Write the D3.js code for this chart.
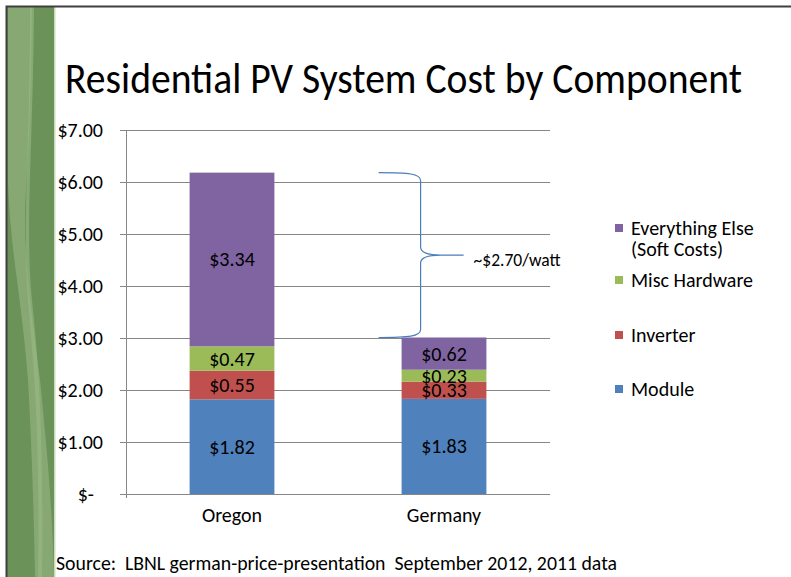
<!DOCTYPE html>
<html><head><meta charset="utf-8">
<script src="https://cdn.jsdelivr.net/npm/d3@7"></script>
<style>
html,body{margin:0;padding:0;background:#fff;}
svg{display:block;font-family:Carlito, Calibri, Lato, "Open Sans", sans-serif;}
text{white-space:pre;}
</style></head>
<body>
<svg id="chart" width="791" height="577"></svg>
<script>
const categories = ["Oregon", "Germany"];
const seriesNames = ["Module", "Inverter", "Misc Hardware", "Everything Else"];
const moduleVals = [1.82, 1.83];
const inverterVals = [0.55, 0.33];
const miscVals = [0.47, 0.23];
const softVals = [3.34, 0.62];
const yTicks = [0, 1, 2, 3, 4, 5, 6, 7];
const colors = ["#4f81bd", "#c0504d", "#9bbb59", "#8064a2"];
const legendLabels = [["Everything Else", "(Soft Costs)"], ["Misc Hardware"], ["Inverter"], ["Module"]];
const braceLabel = "~$2.70/watt";
const titleText = "Residential PV System Cost by Component";
const sourceText = "Source:  LBNL german-price-presentation  September 2012, 2011 data";

const FONT = "Carlito, Calibri, Lato, sans-serif";
const svg = d3.select("#chart");

// decorative left band
const deco = svg.append("g");
deco.append("rect").attr("x", 7).attr("y", 7).attr("width", 48).attr("height", 570).attr("fill", "#6b9259");
deco.append("path").attr("fill", "#8bab75").attr("opacity", 0.9)
  .attr("d", "M8,7 L32,7 C31,90 29,150 26,190 C22,250 30,300 40,380 C46,440 52,500 54,577 L35,577 C34,520 32,450 28,380 C22,300 10,250 8,180 Z");
deco.append("path").attr("fill", "#9ab985").attr("opacity", 0.6)
  .attr("d", "M30,7 L34,7 C33,150 25,230 32,300 C38,360 44,420 42,577 L38,577 C40,430 34,370 28,300 C22,230 30,150 30,7 Z");
deco.append("rect").attr("x", 54).attr("y", 7).attr("width", 1.5).attr("height", 570).attr("fill", "#c9dbbd");
// frame
svg.append("path").attr("d", "M6.5,577 L6.5,6.5 L791,6.5").attr("fill", "none").attr("stroke", "#3f3f3f").attr("stroke-width", 2);

// title
svg.append("text").attr("x", 65).attr("y", 93).attr("font-size", 44).attr("fill", "#000")
  .attr("textLength", 677).attr("lengthAdjust", "spacingAndGlyphs").text(titleText);

const x = d3.scaleBand().domain(categories).range([126, 550]).paddingInner(0.6).paddingOuter(0.3);
const y = d3.scaleLinear().domain([0, 7]).range([494, 130]);

// gridlines + y axis
const yAxis = d3.axisLeft(y).tickValues(yTicks).tickSizeInner(-430).tickSizeOuter(0).tickPadding(17)
  .tickFormat(d => d === 0 ? "$-" : "$" + d.toFixed(2));
const gy = svg.append("g").attr("transform", "translate(120,0)").call(yAxis);
gy.select(".domain").remove();
gy.selectAll(".tick line").attr("stroke", "#868686").attr("stroke-width", 1);
gy.selectAll(".tick text").attr("font-size", 20).attr("fill", "#000").attr("font-family", FONT)
  .attr("dx", d => d === 0 ? -9 : 0);
svg.append("line").attr("x1", 126.5).attr("x2", 126.5).attr("y1", y(7)).attr("y2", y(0) + 4).attr("stroke", "#868686");

// x axis
const xAxis = d3.axisBottom(x).tickSize(0).tickPadding(14);
const gx = svg.append("g").attr("transform", `translate(0,${y(0)})`).call(xAxis);
gx.select(".domain").remove();
gx.selectAll(".tick text").attr("font-size", 20).attr("fill", "#000").attr("font-family", FONT);

// stacked data
const table = categories.map((c, i) => ({
  cat: c, "Module": moduleVals[i], "Inverter": inverterVals[i], "Misc Hardware": miscVals[i], "Everything Else": softVals[i]
}));
const stack = d3.stack().keys(seriesNames)(table);
const layers = svg.append("g").selectAll("g").data(stack).join("g").attr("fill", (d, i) => colors[i]);
layers.selectAll("rect").data(d => d).join("rect")
  .attr("x", d => x(d.data.cat)).attr("width", x.bandwidth())
  .attr("y", d => y(d[1])).attr("height", d => y(d[0]) - y(d[1]));
const labels = svg.append("g");
stack.forEach(layer => {
  layer.forEach(d => {
    labels.append("text").attr("x", x(d.data.cat) + x.bandwidth() / 2)
      .attr("y", (y(d[0]) + y(d[1])) / 2).attr("dy", "0.35em")
      .attr("text-anchor", "middle").attr("font-size", 20).attr("fill", "#000")
      .text("$" + (d[1] - d[0]).toFixed(2));
  });
});

// brace between totals
const totals = table.map(d => seriesNames.reduce((s, k) => s + d[k], 0));
const yTop = y(totals[0]), yBot = y(totals[1]), yMid = (yTop + yBot) / 2;
const bx0 = x(categories[1]) - 23, bs = bx0 + 42, bt = bs + 20;
const p = d3.path();
p.moveTo(bx0, yTop);
p.bezierCurveTo(bx0 + 30, yTop, bs, yTop + 1, bs, yTop + 8);
p.lineTo(bs, yMid - 8);
p.bezierCurveTo(bs, yMid - 2, bs + 8, yMid, bt, yMid);
p.bezierCurveTo(bs + 8, yMid, bs, yMid + 2, bs, yMid + 8);
p.lineTo(bs, yBot - 8);
p.bezierCurveTo(bs, yBot - 1, bx0 + 30, yBot, bx0, yBot);
p.moveTo(bt, yMid);
p.lineTo(bt + 23, yMid);
svg.append("path").attr("d", p.toString()).attr("fill", "none").attr("stroke", "#4a7ebb").attr("stroke-width", 1.2);
svg.append("text").attr("x", bt + 33).attr("y", yMid + 11).attr("font-size", 17.5).attr("fill", "#000").text(braceLabel);

// legend
const legendY = [235, 287, 342, 396];
const lg = svg.append("g");
legendLabels.forEach((lines, i) => {
  const g = lg.append("g");
  g.append("rect").attr("x", 615).attr("y", legendY[i] - 11).attr("width", 8).attr("height", 8).attr("fill", colors[3 - i]);
  lines.forEach((t, j) => {
    g.append("text").attr("x", 631).attr("y", legendY[i] + j * 21).attr("font-size", 20).attr("fill", "#000").text(t);
  });
});

// source
svg.append("text").attr("x", 56).attr("y", 570).attr("font-size", 20).attr("fill", "#000")
  .attr("textLength", 561).attr("lengthAdjust", "spacingAndGlyphs").text(sourceText);
</script>
</body></html>
